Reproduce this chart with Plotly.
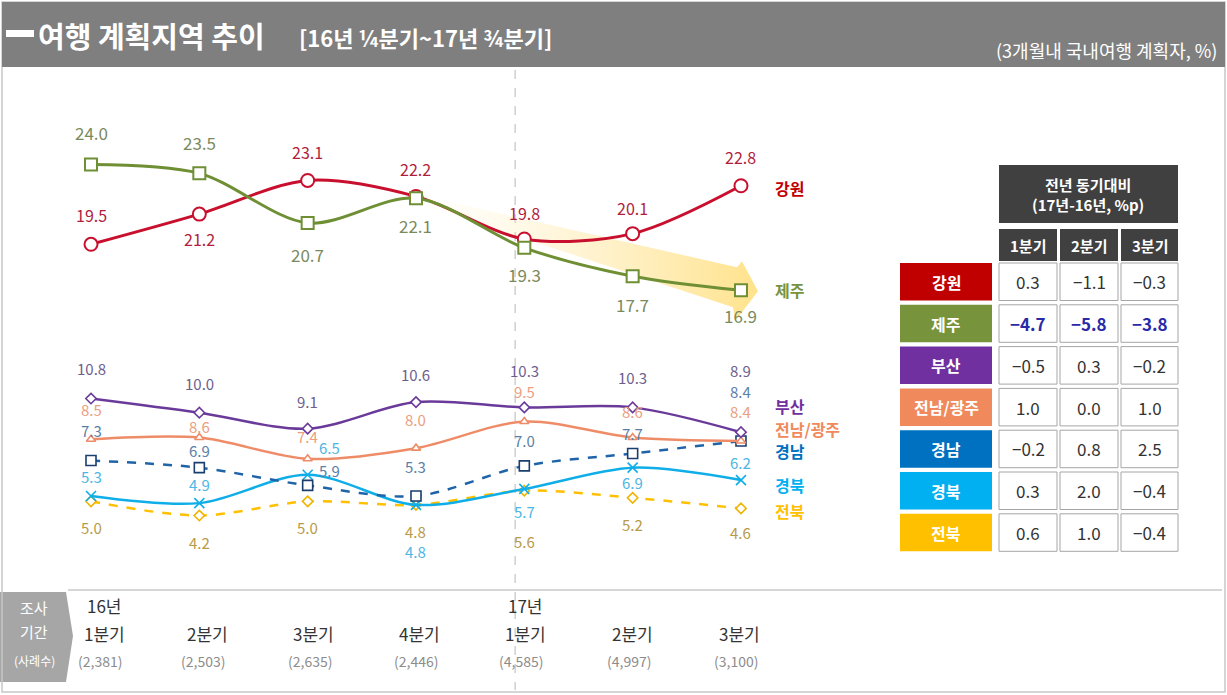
import plotly.graph_objects as go

W, H = 1227, 695

# ---------------- data ----------------
quarters = ['1분기', '2분기', '3분기', '4분기', '1분기', '2분기', '3분기']
year_tags = ['16년', '', '', '', '17년', '', '']
sample_sizes = ['(2,381)', '(2,503)', '(2,635)', '(2,446)', '(4,585)', '(4,997)', '(3,100)']

gangwon = [19.5, 21.2, 23.1, 22.2, 19.8, 20.1, 22.8]
jeju = [24.0, 23.5, 20.7, 22.1, 19.3, 17.7, 16.9]
busan = [10.8, 10.0, 9.1, 10.6, 10.3, 10.3, 8.9]
jeonnam = [8.5, 8.6, 7.4, 8.0, 9.5, 8.6, 8.4]
gyeongnam = [7.3, 6.9, 5.9, 5.3, 7.0, 7.7, 8.4]
gyeongbuk = [5.3, 4.9, 6.5, 4.8, 5.7, 6.9, 6.2]
jeonbuk = [5.0, 4.2, 5.0, 4.8, 5.6, 5.2, 4.6]

table_regions = ['강원', '제주', '부산', '전남/광주', '경남', '경북', '전북']
diff_cols = ['1분기', '2분기', '3분기']
diff_q1 = [0.3, -4.7, -0.5, 1.0, -0.2, 0.3, 0.6]
diff_q2 = [-1.1, -5.8, 0.3, 0.0, 0.8, 2.0, 1.0]
diff_q3 = [-0.3, -3.8, -0.2, 1.0, 2.5, -0.4, -0.4]

# ---------------- layout helpers ----------------
FONT = 'Noto Sans CJK KR'
X0_PX, DX_PX = 91, 108.33          # pixel of first category, pixels per category
Y0_PX, DY_PX = 590, 17.73          # pixel of value 0, pixels per unit
xr = [-X0_PX / DX_PX, (W - X0_PX) / DX_PX]
yr = [-(H - Y0_PX) / DY_PX, Y0_PX / DY_PX]
cat_label_xshift = [13, 8, 6, 4, 1, 0, -1]


def px(x):
    return x / W


def py(y):
    return 1 - y / H


def ann(x, y, text, size, color, xanchor='center', yanchor='middle', **kw):
    d = dict(x=x, y=y, text=text, showarrow=False, xanchor=xanchor, yanchor=yanchor,
             font=dict(family=FONT, size=size, color=color))
    d.setdefault('xref', 'paper')
    d.setdefault('yref', 'paper')
    d.update(kw)
    return d


xs = list(range(len(quarters)))

series = [
    dict(name='전북', v=jeonbuk, c='#ffc000', w=2.5, dash='dash', sym='diamond', ms=8, mc='#f0b400',
         lc='#b89a48', lsz=15, ys=[-26, -27, -26, -27, -51, -27, -24], xsh=[0] * 7, nys=-3),
    dict(name='경북', v=gyeongbuk, c='#10aee8', w=2.5, dash='solid', sym='x-thin-open', ms=10, mc='#10aee8',
         lc='#4db6e4', lsz=15, ys=[20, 19, 27, -47, -23, -15, 18], xsh=[0, 0, 22, 0, 0, 0, 0], nys=-5),
    dict(name='경남', v=gyeongnam, c='#1f64a8', w=2.5, dash='dash', sym='square', ms=10, mc='#1a3e6e',
         lc='#5b80a8', lsz=15, ys=[30, 17, 15, 30, 25, 20, 50], xsh=[0, 0, 22, 0, 0, 0, 0], nys=-10),
    dict(name='전남/광주', v=jeonnam, c='#ef8c68', w=2.5, dash='solid', sym='triangle-up', ms=8, mc='#ef8c68',
         lc='#eba080', lsz=15, ys=[30, 11, 22, 29, 30, 26, 30], xsh=[0] * 7, nys=12),
    dict(name='부산', v=busan, c='#6a3a9a', w=2.5, dash='solid', sym='diamond', ms=8, mc='#6a3a9a',
         lc='#6e5e8e', lsz=15, ys=[30, 29, 27, 28, 37, 30, 62], xsh=[0] * 7, nys=26),
    dict(name='강원', v=gangwon, c='#c8102e', w=3, dash='solid', sym='circle', ms=13, mc='#c8102e',
         lc='#b01e3c', lsz=16, ys=[29, -25, 28, 27, 26, 26, 29], xsh=[0] * 7, nys=-2),
    dict(name='제주', v=jeju, c='#6f8f34', w=3, dash='solid', sym='square', ms=12, mc='#6f8f34',
         lc='#7b8a5d', lsz=17, ys=[32, 31, -32, -27, -27, -28, -25], xsh=[0] * 7, nys=0),
]

name_colors = {'강원': '#c00000', '제주': '#77933c', '부산': '#7030a0', '전남/광주': '#f08a5c',
               '경남': '#0070c0', '경북': '#00b0f0', '전북': '#ffc000'}

fig = go.Figure()

# ---- yellow trend arrow behind 제주 (from 4분기 to 17년 3분기) ----
sx, sy = xs[3], jeju[3]
ex, ey = xs[6], jeju[6]
ddx, ddy = 1 / DX_PX, 1 / DY_PX
arrow_pts = [
    (sx - 5 * ddx, sy + 5 * ddy),
    (ex - 4 * ddx, ey + 23 * ddy),
    (ex + 1 * ddx, ey + 29 * ddy),
    (ex + 17 * ddx, ey - 1 * ddy),
    (ex - 6 * ddx, ey - 31 * ddy),
    (ex - 8 * ddx, ey - 17 * ddy),
    (sx - 5 * ddx, sy - 3 * ddy),
]
fig.add_trace(go.Scatter(
    x=[p[0] for p in arrow_pts] + [arrow_pts[0][0]],
    y=[p[1] for p in arrow_pts] + [arrow_pts[0][1]],
    mode='lines', line=dict(width=0), fill='toself',
    fillgradient=dict(type='horizontal',
                      colorscale=[[0, 'rgba(255,240,190,0.0)'], [0.5, 'rgba(255,226,140,0.4)'],
                                  [1, 'rgba(255,214,90,0.7)']]),
    hoverinfo='skip', showlegend=False))

# ---- lines ----
for s in series:
    fig.add_trace(go.Scatter(
        x=xs, y=s['v'], mode='lines+markers', name=s['name'],
        line=dict(color=s['c'], width=s['w'], dash=s['dash'], shape='spline', smoothing=0.9),
        marker=dict(symbol=s['sym'], size=s['ms'],
                    color=s['mc'] if 'x-thin' in s['sym'] else 'white',
                    line=dict(color=s['mc'], width=2 if s['ms'] >= 12 else 1.6)),
        showlegend=False, hoverinfo='skip'))

annotations = []
shapes = []

# ---- data labels & series names ----
for s in series:
    for i, v in enumerate(s['v']):
        annotations.append(ann(xs[i], v, f'{v:.1f}', s['lsz'], s['lc'], xref='x', yref='y',
                               yshift=s['ys'][i], xshift=s['xsh'][i]))
    annotations.append(ann(xs[-1], s['v'][-1], f"<b>{s['name']}</b>", 16, name_colors[s['name']],
                           xanchor='left', xref='x', yref='y', xshift=32, yshift=s['nys']))

# ---- bottom category labels ----
for i in xs:
    if year_tags[i]:
        annotations.append(ann(xs[i], py(605), year_tags[i], 17, '#333333', xref='x',
                               xshift=cat_label_xshift[i]))
    annotations.append(ann(xs[i], py(633), quarters[i], 17, '#333333', xref='x',
                           xshift=cat_label_xshift[i]))
    annotations.append(ann(xs[i], py(661), sample_sizes[i], 14, '#8c8c8c', xref='x',
                           xshift=cat_label_xshift[i] - 4))

# left tag: 조사기간 (사례수)
shapes.append(dict(type='path', xref='paper', yref='paper',
                   path=f'M {px(0)},{py(592)} L {px(66)},{py(592)} L {px(73)},{py(636)} '
                        f'L {px(66)},{py(682)} L {px(0)},{py(682)} Z',
                   fillcolor='#a6a6a6', line=dict(width=0), layer='below'))
for t, yy, sz in [('조사', 607, 15), ('기간', 631, 15), ('(사례수)', 660, 12)]:
    annotations.append(ann(px(34), py(yy), t, sz, 'white'))

# axis base line and dashed year separator
shapes.append(dict(type='line', xref='paper', yref='paper', x0=px(68), x1=px(1222), y0=py(590), y1=py(590),
                   line=dict(color='#c8c8c8', width=1.5)))
shapes.append(dict(type='line', xref='x', yref='paper', x0=3.915, x1=3.915, y0=py(70), y1=py(690),
                   line=dict(color='#b8b8b8', width=1, dash='dash'), layer='below'))

# ---- title bar & frame ----
shapes.append(dict(type='rect', xref='paper', yref='paper', x0=px(2), x1=px(1225), y0=py(692), y1=py(2),
                   line=dict(color='#c8c8c8', width=1.5), fillcolor='rgba(0,0,0,0)', layer='below'))
shapes.append(dict(type='rect', xref='paper', yref='paper', x0=px(2), x1=px(1225), y0=py(67), y1=py(2),
                   line=dict(width=0), fillcolor='#7f7f7f', layer='below'))
shapes.append(dict(type='rect', xref='paper', yref='paper', x0=px(6), x1=px(34), y0=py(37), y1=py(30),
                   line=dict(width=0), fillcolor='white'))
annotations.append(ann(px(36), py(35), '<b>여행 계획지역 추이</b>', 29, 'white', xanchor='left'))
annotations.append(ann(px(297), py(37), '<b>[16년 ¼분기~17년 ¾분기]</b>', 22, 'white', xanchor='left'))
annotations.append(ann(px(1219), py(50), '(3개월내 국내여행 계획자, %)', 18, 'white', xanchor='right'))

# ---- comparison table ----
col_x = [(999, 1057), (1060, 1118), (1121, 1178)]
shapes.append(dict(type='rect', xref='paper', yref='paper', x0=px(999), x1=px(1178), y0=py(223), y1=py(165),
                   line=dict(width=0), fillcolor='#404040'))
annotations.append(ann(px(1088), py(194), '<b>전년 동기대비<br>(17년-16년, %p)</b>', 15, 'white'))
for j, (a, b) in enumerate(col_x):
    shapes.append(dict(type='rect', xref='paper', yref='paper', x0=px(a), x1=px(b), y0=py(261), y1=py(229),
                       line=dict(width=0), fillcolor='#404040'))
    annotations.append(ann(px((a + b) / 2), py(245), f'<b>{diff_cols[j]}</b>', 15, 'white'))

ROW_TOP, ROW_STEP, ROW_H = 263, 41.8, 37.5
for i, reg in enumerate(table_regions):
    t0 = ROW_TOP + i * ROW_STEP
    t1 = t0 + ROW_H
    shapes.append(dict(type='rect', xref='paper', yref='paper', x0=px(900), x1=px(992), y0=py(t1), y1=py(t0),
                       line=dict(width=0), fillcolor=name_colors[reg]))
    annotations.append(ann(px(946), py((t0 + t1) / 2), f'<b>{reg}</b>', 16, 'white'))
    for j, vals in enumerate([diff_q1, diff_q2, diff_q3]):
        a, b = col_x[j]
        shapes.append(dict(type='rect', xref='paper', yref='paper', x0=px(a), x1=px(b), y0=py(t1), y1=py(t0),
                           line=dict(color='#a6a6a6', width=1), fillcolor='white'))
        txt = f'{vals[i]:.1f}'.replace('-', '−')
        if reg == '제주':
            txt = f'<b>{txt}</b>'
            col = '#2a2aa8'
        else:
            col = '#333333'
        annotations.append(ann(px((a + b) / 2), py((t0 + t1) / 2), txt, 17, col))

fig.update_layout(
    width=W, height=H, autosize=False,
    margin=dict(l=0, r=0, t=0, b=0),
    paper_bgcolor='white', plot_bgcolor='rgba(0,0,0,0)',
    xaxis=dict(range=xr, visible=False, fixedrange=True),
    yaxis=dict(range=yr, visible=False, fixedrange=True),
    shapes=shapes, annotations=annotations,
    font=dict(family=FONT),
    showlegend=False,
)

fig.write_html('out.html', config={'displayModeBar': False},
               post_script="document.body.style.margin='0';")
